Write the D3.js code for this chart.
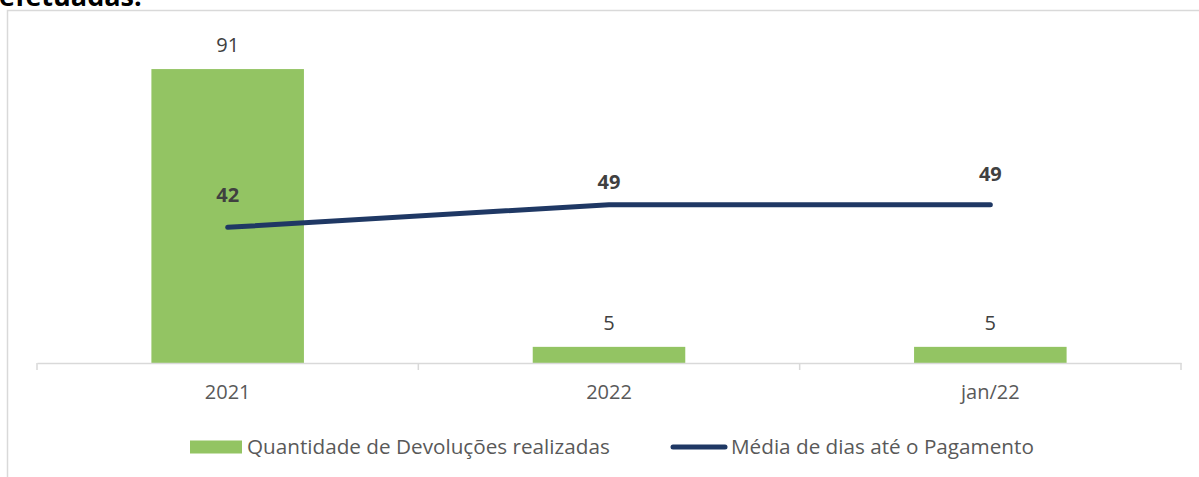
<!DOCTYPE html>
<html>
<head>
<meta charset="utf-8">
<script src="https://cdn.jsdelivr.net/npm/d3@7"></script>
<style>
  html, body { margin: 0; padding: 0; background: #fff; }
  svg { display: block; font-family: 'Open Sans', 'Noto Sans', sans-serif; }
</style>
</head>
<body>
<div id="viz"></div>
<script>
// chart data
const categories = ['2021', '2022', 'jan/22'];
const devolucoes = [91, 5, 5];
const mediaDias = [42, 49, 49];
const seriesNames = ['Quantidade de Devoluções realizadas', 'Média de dias até o Pagamento'];
const titleTail = 'efetuadas.';

const WIDTH = 1199;
const HEIGHT = 477;
const PLOT = { left: 37, right: 1181, top: 40, bottom: 363 };

const BAR_COLOR = '#93c463';
const LINE_COLOR = '#1f3864';
const GRID_COLOR = '#d9d9d9';
const TEXT_COLOR = '#595959';

const svg = d3.select('#viz')
  .append('svg')
  .attr('width', WIDTH)
  .attr('height', HEIGHT);

// frame of the chart area (clipped in the original screenshot)
svg.append('path')
  .attr('d', `M7.5,${HEIGHT} V10.5 H${WIDTH}`)
  .attr('fill', 'none')
  .attr('stroke', GRID_COLOR)
  .attr('stroke-width', 1.5);

// cut-off title from above
svg.append('text')
  .attr('x', -1)
  .attr('y', 6)
  .attr('font-size', 27)
  .attr('font-weight', 700)
  .attr('fill', '#000')
  .text(titleTail);

const x = d3.scaleBand()
  .domain(categories)
  .range([PLOT.left, PLOT.right])
  .padding(0);

const y = d3.scaleLinear()
  .domain([0, 100])
  .range([PLOT.bottom, PLOT.top]);

const barW = x.bandwidth() * 0.4;
const cx = d => x(d) + x.bandwidth() / 2;

// bars
svg.append('g')
  .selectAll('rect')
  .data(categories)
  .join('rect')
  .attr('x', d => cx(d) - barW / 2)
  .attr('y', (d, i) => y(devolucoes[i]))
  .attr('width', barW)
  .attr('height', (d, i) => y(0) - y(devolucoes[i]))
  .attr('fill', BAR_COLOR);

// bar labels
svg.append('g')
  .selectAll('text')
  .data(categories)
  .join('text')
  .attr('x', d => cx(d))
  .attr('y', (d, i) => y(devolucoes[i]) - 17)
  .attr('text-anchor', 'middle')
  .attr('font-size', 20)
  .attr('fill', '#404040')
  .text((d, i) => devolucoes[i]);

// x axis
const axis = svg.append('g')
  .attr('transform', `translate(0,${PLOT.bottom})`)
  .call(d3.axisBottom(x).tickSize(0).tickPadding(22));
axis.select('.domain').attr('stroke', GRID_COLOR).attr('stroke-width', 1.5);
axis.selectAll('.tick text')
  .attr('font-size', 20)
  .attr('font-family', "'Open Sans', sans-serif")
  .attr('fill', TEXT_COLOR);

// boundary tick marks
const bounds = categories.map(d => x(d)).concat([PLOT.right]);
svg.append('g')
  .selectAll('line')
  .data(bounds)
  .join('line')
  .attr('x1', d => d)
  .attr('x2', d => d)
  .attr('y1', PLOT.bottom)
  .attr('y2', PLOT.bottom + 7)
  .attr('stroke', GRID_COLOR)
  .attr('stroke-width', 1.5);

// line series
const line = d3.line()
  .x((d, i) => cx(categories[i]))
  .y(d => y(d));

svg.append('path')
  .datum(mediaDias)
  .attr('d', line)
  .attr('fill', 'none')
  .attr('stroke', LINE_COLOR)
  .attr('stroke-width', 5)
  .attr('stroke-linecap', 'round')
  .attr('stroke-linejoin', 'round');

// line labels (offsets as placed in the original)
const lineLabelDy = [-25, -16, -24];
svg.append('g')
  .selectAll('text')
  .data(mediaDias)
  .join('text')
  .attr('x', (d, i) => cx(categories[i]))
  .attr('y', (d, i) => y(d) + lineLabelDy[i])
  .attr('text-anchor', 'middle')
  .attr('font-size', 20)
  .attr('font-weight', 700)
  .attr('fill', '#404040')
  .text(d => d);

// legend
const legend = svg.append('g').attr('transform', 'translate(0,447)');
legend.append('rect')
  .attr('x', 190).attr('y', -6.5)
  .attr('width', 52).attr('height', 13)
  .attr('fill', BAR_COLOR);
legend.append('text')
  .attr('x', 247).attr('y', 0)
  .attr('dy', '0.35em')
  .attr('font-size', 20.7)
  .attr('fill', TEXT_COLOR)
  .text(seriesNames[0]);
legend.append('line')
  .attr('x1', 673).attr('x2', 725)
  .attr('y1', 0).attr('y2', 0)
  .attr('stroke', LINE_COLOR)
  .attr('stroke-width', 5)
  .attr('stroke-linecap', 'round');
legend.append('text')
  .attr('x', 731).attr('y', 0)
  .attr('dy', '0.35em')
  .attr('font-size', 20.7)
  .attr('fill', TEXT_COLOR)
  .text(seriesNames[1]);
</script>
</body>
</html>
